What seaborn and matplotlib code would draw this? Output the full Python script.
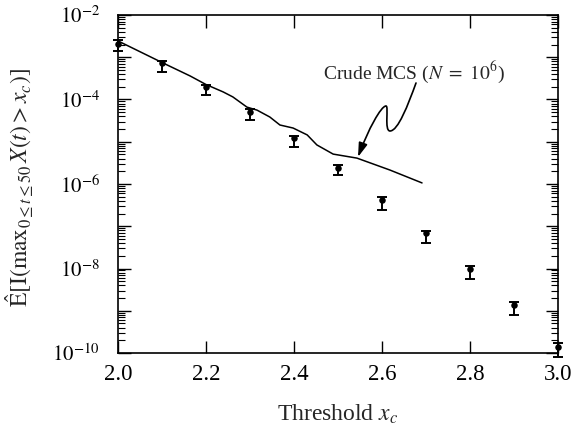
import numpy as np
import pandas as pd
import matplotlib
matplotlib.use("Agg")
import matplotlib.pyplot as plt
import seaborn as sns
from matplotlib.path import Path
from matplotlib.patches import FancyArrowPatch
from matplotlib.ticker import LogLocator, FuncFormatter, NullFormatter

# ---- data ----
thresholds = [2.0, 2.1, 2.2, 2.3, 2.4, 2.5, 2.6, 2.7, 2.8, 2.9, 3.0]
estimate = [2.1e-3, 7.2e-4, 2.0e-4, 5.1e-5, 1.2e-5, 2.4e-6, 4.2e-7, 6.8e-8, 9.5e-9, 1.35e-9, 1.4e-10]
lower = [1.4e-3, 4.5e-4, 1.28e-4, 3.3e-5, 7.6e-6, 1.6e-6, 2.4e-7, 4.0e-8, 5.5e-9, 7.8e-10, 8.2e-11]
upper = [2.56e-3, 8.1e-4, 2.24e-4, 5.96e-5, 1.37e-5, 2.8e-6, 4.8e-7, 7.9e-8, 1.15e-8, 1.64e-9, 1.75e-10]

mcs_x = [2.00, 2.05, 2.10, 2.164, 2.20, 2.239, 2.261, 2.293, 2.316, 2.345, 2.368,
         2.398, 2.430, 2.452, 2.489, 2.543, 2.618, 2.691]
mcs_y = [2.43e-3, 1.35e-3, 7.5e-4, 3.6e-4, 2.26e-4, 1.51e-4, 1.15e-4, 6.6e-5, 5.6e-5,
         3.85e-5, 2.49e-5, 2.11e-5, 1.45e-5, 8.4e-6, 5.1e-6, 4.1e-6, 2.14e-6, 1.06e-6]

x_ticks = [2.0, 2.2, 2.4, 2.6, 2.8, 3.0]
x_label = r"Threshold $x_c$"
y_label = r"$\hat{\mathrm{E}}[\mathrm{I}(\mathrm{max}_{0\leq t\leq 50}\,X(t) > x_c)]$"
annot_text = r"Crude MCS ($N\ =\ 10^{6}$)"

# ---- style ----
sns.set_theme(style="ticks")
plt.rcParams["font.family"] = ["Liberation Serif", "DejaVu Serif"]
plt.rcParams["mathtext.fontset"] = "stix"
plt.rcParams["axes.edgecolor"] = "black"
plt.rcParams["xtick.color"] = "black"
plt.rcParams["ytick.color"] = "black"

fig = plt.figure(figsize=(5.74, 4.28), dpi=100)
ax = fig.add_axes([0.2056, 0.1752, 0.7665, 0.7898])

df_pts = pd.DataFrame({"x": thresholds, "y": estimate})
df_mcs = pd.DataFrame({"x": mcs_x, "y": mcs_y})

sns.lineplot(data=df_mcs, x="x", y="y", ax=ax, color="black", linewidth=1.1)
est = np.array(estimate)
yerr = np.vstack([est - np.array(lower), np.array(upper) - est])
ax.errorbar(thresholds, estimate, yerr=yerr, fmt="none", ecolor="black",
            elinewidth=1.4, capsize=3.5, capthick=1.4, clip_on=False, zorder=3)
sns.scatterplot(data=df_pts, x="x", y="y", ax=ax, color="black", s=22,
                edgecolor="black", linewidth=0, zorder=4, clip_on=False)

ax.set_yscale("log")
ax.set_xlim(2.0, 3.0)
ax.set_ylim(1e-10, 1e-2)
ax.set_xticks(x_ticks)
ax.xaxis.set_major_formatter(FuncFormatter(lambda v, p: f"{v:.1f}"))
ax.yaxis.set_major_locator(LogLocator(base=10, numticks=20))
ax.yaxis.set_minor_locator(LogLocator(base=10, subs=np.arange(2, 10), numticks=20))
ax.yaxis.set_minor_formatter(NullFormatter())

def yfmt(v, p):
    e = int(round(np.log10(v)))
    return rf"$10^{{{e}}}$" if e % 2 == 0 else ""
ax.yaxis.set_major_formatter(FuncFormatter(yfmt))

ax.tick_params(which="both", direction="in", top=True, right=True, color="black")
ax.tick_params(which="major", length=9, width=1.0)
ax.tick_params(axis="x", which="major", labelsize=16.5, pad=8)
ax.tick_params(axis="y", which="major", labelsize=15, pad=13)
ax.tick_params(which="minor", length=5, width=0.8)
for s in ax.spines.values():
    s.set_linewidth(1.2)
    s.set_color("black")

ax.set_xlabel(x_label, fontsize=17)
ax.xaxis.set_label_coords(0.5, -0.148)
ax.set_ylabel(y_label, fontsize=17)
ax.yaxis.set_label_coords(-0.186, 0.49)

ax.text(0.673, 0.831, annot_text, transform=ax.transAxes, fontsize=14,
        ha="center", va="center")

verts = [(0.6773, 0.7988), (0.6591, 0.7337), (0.6364, 0.6568), (0.6182, 0.6568),
         (0.6045, 0.6568), (0.6159, 0.7308), (0.6091, 0.7308),
         (0.5977, 0.7308), (0.5682, 0.6598), (0.5455, 0.5799)]
codes = [Path.MOVETO] + [Path.CURVE4] * 9
arrow = FancyArrowPatch(path=Path(verts, codes), transform=ax.transAxes,
                        arrowstyle="-|>,head_length=0.7,head_width=0.22",
                        mutation_scale=12, color="black", linewidth=1.2)
ax.add_patch(arrow)

fig.savefig("out.png", dpi=100)
